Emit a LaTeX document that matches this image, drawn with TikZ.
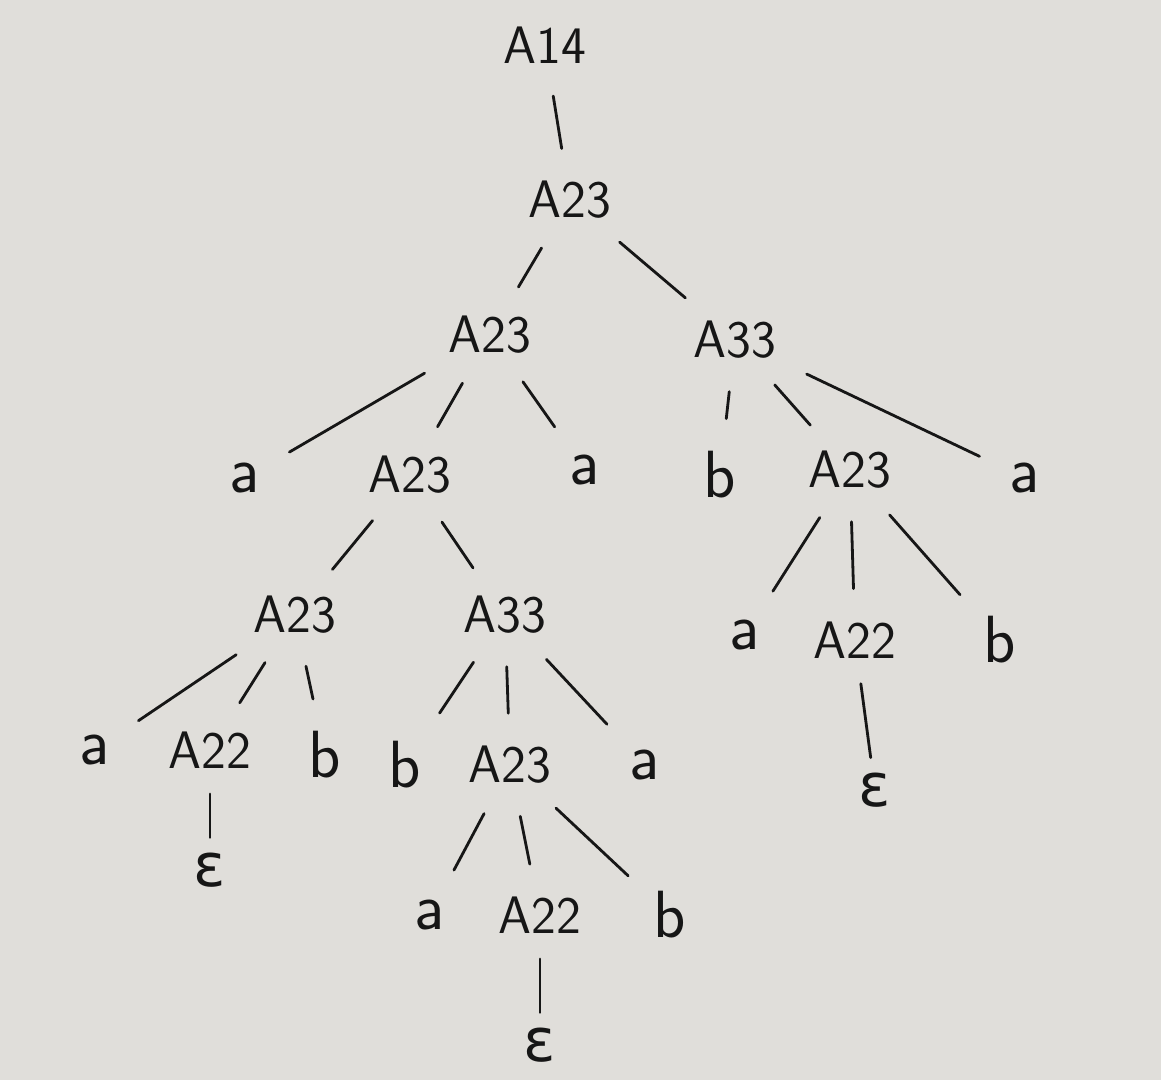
\documentclass[tikz,border=0pt]{standalone}
\usepackage{tikz}
\usetikzlibrary{positioning}
\usepackage{xcolor}
\usepackage{fontspec}
\newfontfamily\epsfont{DejaVu Sans}
\definecolor{paperBg}{RGB}{224,222,218}
\definecolor{inkLine}{RGB}{22,22,22}
\tikzset{
    every node/.append style={align=center},
    sym/.style={font=\sffamily\fontsize{30}{32}\selectfont,text=inkLine,inner sep=3pt},
    leaf/.style={sym,font=\sffamily\fontsize{38}{40}\selectfont},
    eps/.style={sym,font=\epsfont\fontsize{34}{36}\selectfont,inner sep=0pt},
    branch/.style={draw=inkLine,line width=1.6pt,line cap=round,shorten >=0.55cm,shorten <=0.55cm},
    epsbranch/.style={branch,shorten >=0.3cm,shorten <=0.4cm}
}

\begin{document}
\begin{tikzpicture}[on grid]
    \fill[paperBg] (0,0) rectangle (23.22,-21.6);

    \node[sym] (root) at (10.9,-0.9) {A14};
    \node[sym,below=3.1cm of root,xshift=0.5cm] (top) {A23};

    \node[sym,below=2.7cm of top,xshift=-1.6cm] (l2a) {A23};
    \node[sym,below=2.8cm of top,xshift=3.3cm] (l2b) {A33};

    \node[leaf,below=2.86cm of l2a,xshift=-4.9cm] (l3a) {a};
    \node[sym,below=2.8cm of l2a,xshift=-1.6cm] (l3b) {A23};
    \node[leaf,below=2.7cm of l2a,xshift=1.9cm] (l3c) {a};
    \node[leaf,below=2.7cm of l2b,xshift=-0.3cm] (l3d) {b};
    \node[sym,below=2.6cm of l2b,xshift=2.3cm] (l3e) {A23};
    \node[leaf,below=2.76cm of l2b,xshift=5.8cm] (l3f) {a};

    \node[sym,below=2.8cm of l3b,xshift=-2.3cm] (l4a) {A23};
    \node[sym,below=2.8cm of l3b,xshift=1.9cm] (l4b) {A33};
    \node[leaf,below=3.3cm of l3e,xshift=-2.1cm] (l4c) {a};
    \node[sym,below=3.4cm of l3e,xshift=0.1cm] (l4d) {A22};
    \node[leaf,below=3.4cm of l3e,xshift=3.0cm] (l4e) {b};
    \node[eps,below=3.0cm of l4d,xshift=0.4cm] (eps1) {ε};

    \node[leaf,below=2.7cm of l4a,xshift=-4.0cm] (l5a) {a};
    \node[sym,below=2.7cm of l4a,xshift=-1.7cm] (l5b) {A22};
    \node[leaf,below=2.8cm of l4a,xshift=0.6cm] (l5c) {b};
    \node[eps,below=2.4cm of l5b] (eps2) {ε};
    \node[leaf,below=3.0cm of l4b,xshift=-2.0cm] (l5d) {b};
    \node[sym,below=3.0cm of l4b,xshift=0.1cm] (l5e) {A23};
    \node[leaf,below=3.0cm of l4b,xshift=2.8cm] (l5f) {a};

    \node[leaf,below=3.0cm of l5e,xshift=-1.6cm] (l6a) {a};
    \node[sym,below=3.0cm of l5e,xshift=0.6cm] (l6b) {A22};
    \node[leaf,below=3.0cm of l5e,xshift=3.2cm] (l6c) {b};
    \node[eps,below=2.6cm of l6b] (eps3) {ε};

    \draw[branch] (root) -- (top);
    \draw[branch] (top) -- (l2a);
    \draw[branch] (top) -- (l2b);
    \draw[branch] (l2a) -- (l3a);
    \draw[branch] (l2a) -- (l3b);
    \draw[branch] (l2a) -- (l3c);
    \draw[branch] (l2b) -- (l3d);
    \draw[branch] (l2b) -- (l3e);
    \draw[branch] (l2b) -- (l3f);
    \draw[branch] (l3b) -- (l4a);
    \draw[branch] (l3b) -- (l4b);
    \draw[branch] (l3e) -- (l4c);
    \draw[branch] (l3e) -- (l4d);
    \draw[branch] (l3e) -- (l4e);
    \draw[epsbranch] (l4d) -- (eps1);
    \draw[branch] (l4a) -- (l5a);
    \draw[branch] (l4a) -- (l5b);
    \draw[branch] (l4a) -- (l5c);
    \draw[epsbranch] (l5b) -- (eps2);
    \draw[branch] (l4b) -- (l5d);
    \draw[branch] (l4b) -- (l5e);
    \draw[branch] (l4b) -- (l5f);
    \draw[branch] (l5e) -- (l6a);
    \draw[branch] (l5e) -- (l6b);
    \draw[branch] (l5e) -- (l6c);
    \draw[epsbranch] (l6b) -- (eps3);
\end{tikzpicture}
\end{document}
